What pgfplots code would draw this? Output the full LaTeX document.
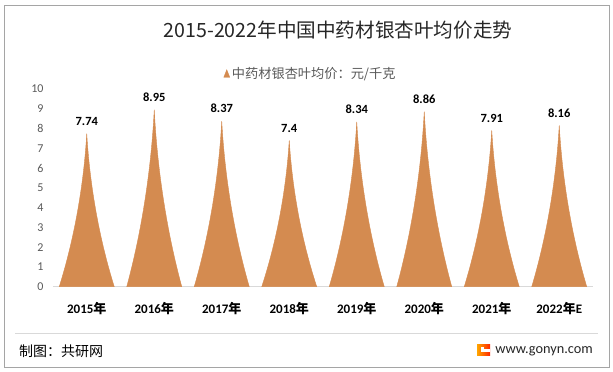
\documentclass[border=0pt]{standalone}
\usepackage{pgfplots}
\pgfplotsset{compat=1.18}
\usepackage{pgfplotstable}
\usepackage{fontspec}
\setmainfont{Carlito}
\newfontfamily\cjk{Noto Sans CJK SC}
\definecolor{spike}{RGB}{212,139,80}
\definecolor{tickgray}{RGB}{89,89,89}
\definecolor{linegray}{RGB}{217,217,217}
\definecolor{bordergray}{RGB}{165,165,165}
\pgfdeclareplotmark{blank}{}
\pgfplotstableread{
x y
0 7.74
1 8.95
2 8.37
3 7.4
4 8.34
5 8.86
6 7.91
7 8.16
}\pricetable
\begin{document}
\begin{tikzpicture}
\draw[bordergray, line width=0.8pt] (4pt,5pt) rectangle (609pt,367pt);
\node[font=\cjk\fontsize{19.6}{22}\selectfont, text=black!85] at (338pt,342pt) {2015-2022年中国中药材银杏叶均价走势};
\draw[linegray, line width=0.8pt] (15pt,39pt) -- (598pt,39pt);
\node[anchor=west, inner sep=0pt, font=\cjk\fontsize{14}{16}\selectfont] at (19pt,21pt) {制图：共研网};
\node[anchor=east, inner sep=0pt, font=\fontsize{14.3}{16}\selectfont, text=black!85] at (593pt,21pt) {www.gonyn.com};
\shade[left color=orange!70!yellow, right color=red!70!orange] (477pt,16pt) rectangle (490pt,27pt);
\fill[white] (481pt,20pt) rectangle (490pt,23pt);
\fill[white] (481pt,20pt) rectangle (484pt,24.5pt);
\begin{axis}[
  at={(53pt,85.3pt)}, anchor=south west,
  scale only axis, width=540pt, height=197.7pt,
  xmin=-0.5, xmax=7.5, ymin=0, ymax=10,
  axis lines=left,
  axis line style={-},
  y axis line style={draw=none},
  x axis line style={draw=linegray, line width=0.8pt},
  major tick length=0pt,
  ytick={0,1,...,10},
  xtick={0,1,...,7},
  xticklabels={2015{\cjk 年},2016{\cjk 年},2017{\cjk 年},2018{\cjk 年},2019{\cjk 年},2020{\cjk 年},2021{\cjk 年},2022{\cjk 年}E},
  /pgf/number format/assume math mode=true,
  yticklabel style={font=\fontsize{12}{14}\selectfont, text=tickgray, xshift=-6pt},
  xticklabel style={font=\bfseries\fontsize{13}{15}\selectfont, text=black, yshift=-12.5pt},
  clip=false,
  legend style={at={(0.477,1.077)}, anchor=center, draw=none, fill=none,
    font=\cjk\fontsize{13.2}{15}\selectfont, text=tickgray},
]
\addplot[
  scatter, only marks, mark=blank,
  visualization depends on={\thisrow{y} \as \yv},
  scatter/@pre marker code/.code={%
    \pgfmathsetmacro\hb{-\yv*19.77}%
    \pgfmathsetmacro\hc{-0.8*\yv*19.77}%
    \pgfmathsetmacro\hd{-0.45*\yv*19.77}%
    \fill[spike] (-27.5pt,\hb pt) .. controls (-17.9pt,\hc pt) and (-4.1pt,\hd pt) .. (0pt,0pt)
       .. controls (4.1pt,\hd pt) and (17.9pt,\hc pt) .. (27.5pt,\hb pt) -- cycle;
  },
  scatter/@post marker code/.code={},
  legend image code/.code={\fill[spike] (0pt,-3.5pt) -- (6pt,-3.5pt) -- (3pt,4pt) -- cycle;},
] table[x=x, y=y] {\pricetable};
\addlegendentry{中药材银杏叶均价：元/千克}
\addplot[
  only marks, mark=blank, forget plot,
  nodes near coords,
  every node near coord/.append style={font=\bfseries\fontsize{12.5}{14}\selectfont, text=black, anchor=south, inner sep=0pt, yshift=8pt},
] table[x=x, y=y] {\pricetable};
\end{axis}
\pgfresetboundingbox
\path[use as bounding box] (0pt,0pt) rectangle (613pt,372pt);
\end{tikzpicture}
\end{document}
